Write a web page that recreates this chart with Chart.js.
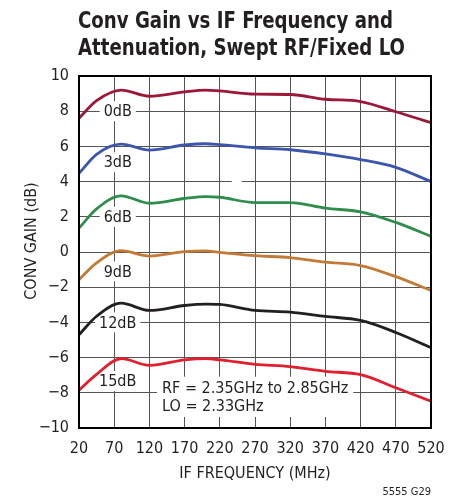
<!DOCTYPE html>
<html>
<head>
<meta charset="utf-8">
<script src="https://cdn.jsdelivr.net/npm/chart.js@4.4.1/dist/chart.umd.min.js"></script>
<style>
  html, body { margin: 0; padding: 0; background: #fff; }
  #wrap { width: 464px; height: 497px; }
</style>
</head>
<body>
<div id="wrap"><canvas id="chart" width="464" height="497"></canvas></div>
<script>
// --- Data ---
const ifFreq = [20, 45, 80, 120, 170, 200, 220, 270, 320, 370, 420, 470, 520];
const gain0dB = [7.6, 8.6, 9.2, 8.85, 9.1, 9.2, 9.15, 8.97, 8.95, 8.68, 8.55, 7.97, 7.35];
const gain3dB = [4.47, 5.55, 6.13, 5.79, 6.08, 6.15, 6.1, 5.92, 5.81, 5.57, 5.25, 4.81, 4.0];
const gain6dB = [1.36, 2.45, 3.19, 2.77, 3.04, 3.15, 3.11, 2.81, 2.81, 2.49, 2.28, 1.68, 0.89];
const gain9dB = [-1.57, -0.62, 0.08, -0.23, 0.02, 0.06, -0.02, -0.21, -0.32, -0.58, -0.77, -1.4, -2.19];
const gain12dB = [-4.7, -3.65, -2.91, -3.32, -3.04, -2.96, -2.98, -3.32, -3.42, -3.66, -3.89, -4.57, -5.43];
const gain15dB = [-7.85, -6.95, -6.06, -6.44, -6.13, -6.06, -6.13, -6.38, -6.51, -6.78, -6.97, -7.71, -8.48];

const seriesNames = ['0dB', '3dB', '6dB', '9dB', '12dB', '15dB'];
const seriesValues = [gain0dB, gain3dB, gain6dB, gain9dB, gain12dB, gain15dB];
const seriesColors = ['#9c1838', '#3d56ad', '#2f8d4d', '#c47a37', '#231f20', '#e11f2e'];

// curve label anchors (MHz, dB)
const labelX = 75;
const labelY = [8, 5.1, 2, -1.1, -4.0, -7.33];

const noteLines = ['RF = 2.35GHz to 2.85GHz', 'LO = 2.33GHz'];
const titleLines = ['Conv Gain vs IF Frequency and', 'Attenuation, Swept RF/Fixed LO'];
const xTitle = 'IF FREQUENCY (MHz)';
const yTitle = 'CONV GAIN (dB)';

const FONT = '"Liberation Sans Narrow", "DejaVu Sans Condensed", sans-serif';
const INK = '#231f20';

function minus(v) {
  return v < 0 ? '\u2212' + Math.abs(v) : String(v);
}

// draw text squeezed to a target width (the original uses a condensed face)
function squeezeText(ctx, text, x, y, targetW) {
  const w = ctx.measureText(text).width;
  const k = Math.min(1, targetW / w);
  ctx.save();
  ctx.translate(x, y);
  ctx.scale(k, 1);
  ctx.fillText(text, 0, 0);
  ctx.restore();
}

// --- Overlay: title, curve labels, note box, frame ---
const overlay = {
  id: 'overlay',
  beforeDatasetsDraw(chart) {
    const { ctx, scales: { x, y } } = chart;
    ctx.save();
    ctx.font = '16px ' + FONT;
    ctx.textBaseline = 'middle';
    ctx.textAlign = 'center';

    // small gap in the 4 dB grid line
    ctx.fillStyle = '#fff';
    ctx.fillRect(x.getPixelForValue(237), y.getPixelForValue(4) - 2, x.getPixelForValue(251) - x.getPixelForValue(237), 4);

    seriesNames.forEach((name, i) => {
      const px = x.getPixelForValue(labelX);
      const py = y.getPixelForValue(labelY[i]);
      const w = ctx.measureText(name).width + 8;
      ctx.fillStyle = '#fff';
      ctx.fillRect(px - w / 2, py - 10, w, 20);
      ctx.fillStyle = INK;
      ctx.fillText(name, px, py + 1);
    });

    // conditions note
    const nx = x.getPixelForValue(138);
    const ny1 = y.getPixelForValue(-7.71);
    const ny2 = y.getPixelForValue(-8.75);
    ctx.fillStyle = '#fff';
    ctx.fillRect(nx - 5, ny1 - 11, ctx.measureText(noteLines[0]).width + 10, ny2 - ny1 + 22);
    ctx.fillStyle = INK;
    ctx.textAlign = 'left';
    ctx.fillText(noteLines[0], nx, ny1 + 1);
    ctx.fillText(noteLines[1], nx, ny2 + 1);
    ctx.restore();
  },
  afterDraw(chart) {
    const { ctx, chartArea: a } = chart;
    ctx.save();
    ctx.strokeStyle = '#000';
    ctx.lineWidth = 2;
    ctx.strokeRect(a.left, a.top, a.right - a.left, a.bottom - a.top);

    ctx.fillStyle = INK;
    ctx.textAlign = 'left';
    ctx.textBaseline = 'alphabetic';
    ctx.font = 'bold 23px ' + FONT;
    squeezeText(ctx, titleLines[0], 78, 28, 315);
    squeezeText(ctx, titleLines[1], 78, 55, 327);

    // axis titles
    ctx.font = '16px ' + FONT;
    ctx.textAlign = 'center';
    ctx.textBaseline = 'middle';
    ctx.fillText(xTitle, (a.left + a.right) / 2, 474);
    ctx.save();
    ctx.translate(32, 241);
    ctx.rotate(-Math.PI / 2);
    ctx.fillText(yTitle, 0, 0);
    ctx.restore();

    ctx.font = '11px ' + FONT;
    ctx.textAlign = 'right';
    ctx.textBaseline = 'alphabetic';
    ctx.fillText('5555 G29', a.right, 495);
    ctx.restore();
  }
};

const datasets = seriesNames.map((name, i) => ({
  label: name,
  data: ifFreq.map((f, j) => ({ x: f, y: seriesValues[i][j] })),
  borderColor: seriesColors[i],
  borderWidth: 2.8,
  pointRadius: 0,
  fill: false,
  cubicInterpolationMode: 'monotone'
}));

new Chart(document.getElementById('chart').getContext('2d'), {
  type: 'line',
  data: { datasets },
  options: {
    responsive: false,
    animation: false,
    devicePixelRatio: 1,
    layout: { padding: { left: 0, right: 33, top: 76, bottom: 0 } },
    plugins: { legend: { display: false }, tooltip: { enabled: false } },
    scales: {
      x: {
        type: 'linear',
        min: 20,
        max: 520,
        afterFit(scale) { scale.height = 69; },
        afterBuildTicks(scale) {
          scale.ticks = [];
          for (let v = 20; v <= 520; v += 50) scale.ticks.push({ value: v });
        },
        grid: { color: '#555', lineWidth: 1, drawTicks: false },
        border: { display: false },
        ticks: { color: INK, font: { family: FONT, size: 16 }, padding: 11, maxRotation: 0, autoSkip: false },
        title: { display: false }
      },
      y: {
        min: -10,
        max: 10,
        afterFit(scale) { scale.width = 79; },
        grid: { color: '#555', lineWidth: 1, drawTicks: false },
        border: { display: false },
        ticks: { stepSize: 2, color: INK, font: { family: FONT, size: 16 }, padding: 10, callback: v => minus(v) },
        title: { display: false }
      }
    }
  },
  plugins: [overlay]
});
</script>
</body>
</html>
